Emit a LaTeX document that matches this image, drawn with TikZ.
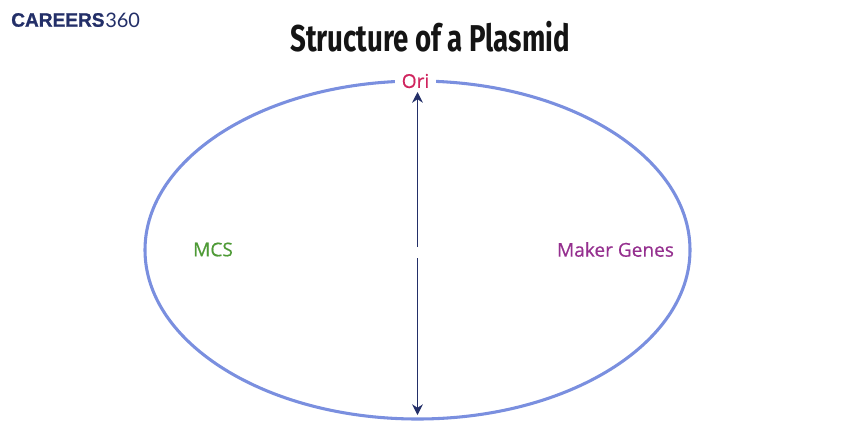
\documentclass[tikz,border=0pt]{standalone}
\usepackage{fontspec}
\setmainfont[FakeBold=0.5]{Open Sans}
\newfontfamily\titlefont[FakeStretch=0.74]{Fira Sans}
\newfontfamily\logofont[FakeStretch=0.98,FakeBold=1]{Liberation Sans}
\newfontfamily\logonum{Lato}
\usetikzlibrary{arrows.meta}
\definecolor{ringblue}{HTML}{7A8FDF}
\definecolor{arrownavy}{HTML}{232F68}
\definecolor{titleink}{HTML}{141414}
\definecolor{orired}{HTML}{D0245E}
\definecolor{mcsgreen}{HTML}{4E9A36}
\definecolor{makerpurple}{HTML}{95308F}
\tikzset{label/.style={font=\fontsize{14.3}{16}\selectfont, inner sep=1pt},
  axis/.style={draw=arrownavy, line width=1pt, -{Stealth[length=8pt,width=8pt]}}}

\begin{document}
\begin{tikzpicture}[x=.75pt, y=-.75pt]
  \useasboundingbox (0,0) rectangle (860,430);
  \draw[ringblue, line width=2.3pt] (417.5,250) ellipse [x radius=272.5, y radius=169];
  % labels
  \node[label, text=orired, fill=white, inner xsep=5pt] (ori) at (415.5,81) {Ori};
  \node[label, text=mcsgreen] (mcs) at (213,249.5) {MCS};
  \node[label, text=makerpurple] (maker) at (615.5,249.5) {Maker Genes};
  \node[font=\titlefont\bfseries\fontsize{28}{32}\selectfont, text=titleink, inner sep=0pt] (title) at (430,37) {Structure of a Plasmid};
  % logo
  \node[font=\logofont\bfseries\fontsize{14.6}{16}\selectfont, text=arrownavy, inner sep=0pt, anchor=west] (careers) at (11,20) {CAREERS};
  \node[font=\logonum\fontsize{15}{16}\selectfont, text=arrownavy, inner sep=0pt, anchor=west] (num) at (105,20) {360};
  % arrows from the middle
  \coordinate (upper) at (417.5,247);
  \coordinate (lower) at (417.5,258);
  \coordinate (top) at (417.5,92);
  \coordinate (bottom) at (417.5,415);
  \draw[axis] (upper) -- (top);
  \draw[axis] (lower) -- (bottom);
\end{tikzpicture}
\end{document}
